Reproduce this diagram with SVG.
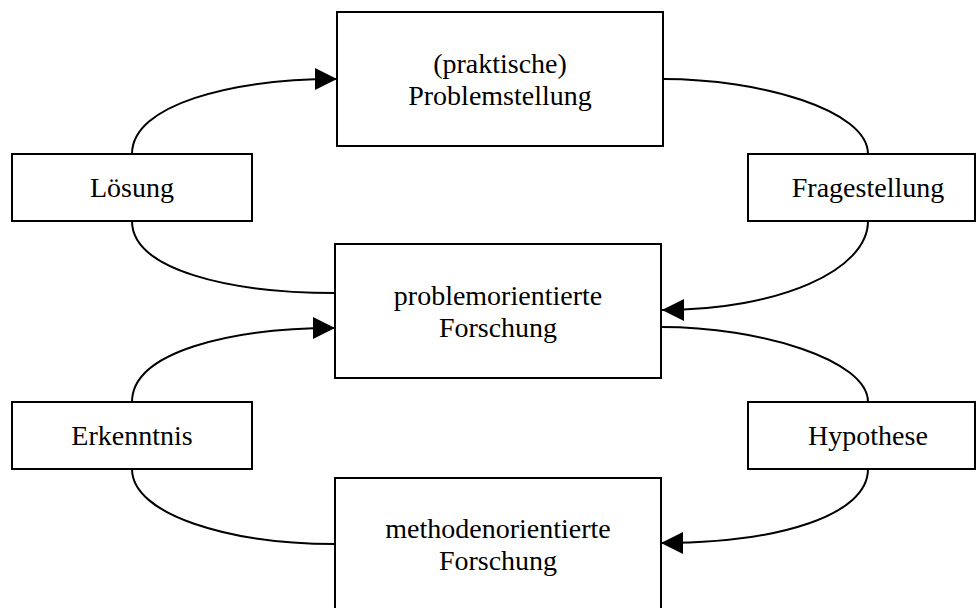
<svg xmlns="http://www.w3.org/2000/svg" width="976" height="608" viewBox="0 0 976 608">
<style>
.box{fill:#fff;stroke:#000;stroke-width:2}
.t{font-family:"Liberation Serif","Times New Roman",serif;font-size:28px;fill:#000;text-anchor:middle}
.c{fill:none;stroke:#000;stroke-width:2}
</style>
<defs>
<marker id="ah" viewBox="0 0 22 22" refX="22" refY="11" markerWidth="22" markerHeight="22" markerUnits="userSpaceOnUse" orient="auto">
<path d="M0,0 L22,11 L0,22 z" fill="#000"/>
</marker>
</defs>
<rect width="976" height="608" fill="#fff"/>
<g id="connectors">
<path class="c" d="M132,154 C132,105 230,79 337,79" marker-end="url(#ah)"/>
<path class="c" d="M132,221 C132,270 230,293 335,293"/>
<path class="c" d="M663,79 C760,79 868,110 868,154"/>
<path class="c" d="M868,221 C868,270 780,310 662,310" marker-end="url(#ah)"/>
<path class="c" d="M661,327 C760,327 868,360 868,402"/>
<path class="c" d="M868,469 C868,515 780,543 661,543" marker-end="url(#ah)"/>
<path class="c" d="M132,402 C132,352 230,328 335,328" marker-end="url(#ah)"/>
<path class="c" d="M132,469 C132,515 230,544 335,544"/>
</g>
<g id="n-problemstellung">
<rect class="box" x="337" y="12" width="326" height="134"/>
<text class="t" x="500" y="73">(praktische)</text>
<text class="t" x="500" y="105">Problemstellung</text>
</g>
<g id="n-loesung">
<rect class="box" x="12" y="154" width="240" height="67"/>
<text class="t" x="132" y="197">Lösung</text>
</g>
<g id="n-fragestellung">
<rect class="box" x="748" y="154" width="227" height="67"/>
<text class="t" x="868" y="197">Fragestellung</text>
</g>
<g id="n-problemorientiert">
<rect class="box" x="335" y="244" width="326" height="134"/>
<text class="t" x="498" y="305">problemorientierte</text>
<text class="t" x="498" y="337">Forschung</text>
</g>
<g id="n-erkenntnis">
<rect class="box" x="12" y="402" width="240" height="67"/>
<text class="t" x="132" y="445">Erkenntnis</text>
</g>
<g id="n-hypothese">
<rect class="box" x="748" y="402" width="227" height="67"/>
<text class="t" x="868" y="445">Hypothese</text>
</g>
<g id="n-methodenorientiert">
<rect class="box" x="335" y="478" width="326" height="134"/>
<text class="t" x="498" y="538">methodenorientierte</text>
<text class="t" x="498" y="570">Forschung</text>
</g>
</svg>
